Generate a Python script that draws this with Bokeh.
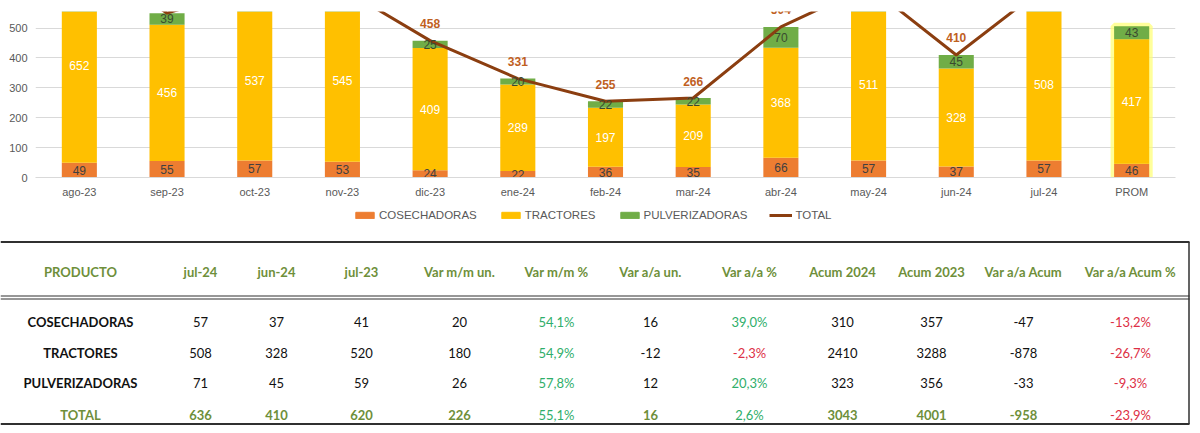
from bokeh.plotting import figure
from bokeh.models import ColumnDataSource, FactorRange, Range1d, CDSView, BooleanFilter
from bokeh.layouts import column
from bokeh.core.properties import value
from bokeh.embed import file_html
from bokeh.resources import INLINE

# ---------------- data ----------------
months = ["ago-23", "sep-23", "oct-23", "nov-23", "dic-23", "ene-24", "feb-24",
          "mar-24", "abr-24", "may-24", "jun-24", "jul-24", "PROM"]
cosechadoras = [49, 55, 57, 53, 24, 22, 36, 35, 66, 57, 37, 57, 46]
tractores = [652, 456, 537, 545, 409, 289, 197, 209, 368, 511, 328, 508, 417]
pulverizadoras = [50, 39, 45, 34, 25, 20, 22, 22, 70, 73, 45, 71, 43]
total_months = months[:12]
total = [751, 550, 639, 632, 458, 331, 255, 266, 504, 641, 410, 636]
series_names = ["COSECHADORAS", "TRACTORES", "PULVERIZADORAS", "TOTAL"]

tbl_header = ["PRODUCTO", "jul-24", "jun-24", "jul-23", "Var m/m un.", "Var m/m %",
              "Var a/a un.", "Var a/a %", "Acum 2024", "Acum 2023", "Var a/a Acum",
              "Var a/a Acum %"]
tbl_products = ["COSECHADORAS", "TRACTORES", "PULVERIZADORAS", "TOTAL"]
tbl_jul24 = [57, 508, 71, 636]
tbl_jun24 = [37, 328, 45, 410]
tbl_jul23 = [41, 520, 59, 620]
tbl_var_mm_un = [20, 180, 26, 226]
tbl_var_mm_pct = ["54,1%", "54,9%", "57,8%", "55,1%"]
tbl_var_aa_un = [16, -12, 12, 16]
tbl_var_aa_pct = ["39,0%", "-2,3%", "20,3%", "2,6%"]
tbl_acum24 = [310, 2410, 323, 3043]
tbl_acum23 = [357, 3288, 356, 4001]
tbl_var_aa_acum = [-47, -878, -33, -958]
tbl_var_aa_acum_pct = ["-13,2%", "-26,7%", "-9,3%", "-23,9%"]

# ---------------- styles ----------------
C_COS = "#ED7D31"
C_TRA = "#FFC000"
C_PUL = "#70AD47"
C_TOT = "#8B3E10"
C_TOTLBL = "#C0601E"
FONT = "Liberation Sans"
TFONT = "Lato"
GREEN_HDR = "#6E8F3A"
GREEN_POS = "#2FAE6A"
RED_NEG = "#DD2F45"
Y_MAX = 555.5

# ---------------- chart ----------------
src = ColumnDataSource(dict(
    x=months, cos=cosechadoras, tra=tractores, pul=pulverizadoras,
    cos_mid=[c / 2 for c in cosechadoras],
    tra_mid=[c + t / 2 for c, t in zip(cosechadoras, tractores)],
    pul_mid=[c + t + p / 2 for c, t, p in zip(cosechadoras, tractores, pulverizadoras)],
    cos_lbl=[str(v) for v in cosechadoras],
    tra_lbl=[str(v) for v in tractores],
    pul_lbl=[str(v) for v in pulverizadoras],
))
tsrc = ColumnDataSource(dict(x=total_months, y=total, lbl=[str(v) for v in total]))
# labels that fall above the visible range are hidden (as in the reference)
lbl_view = CDSView(filter=BooleanFilter([v < 510 for v in total]))
pul_view = CDSView(filter=BooleanFilter([c + t + pv / 2 < Y_MAX - 10 for c, t, pv in
                                          zip(cosechadoras, tractores, pulverizadoras)]))

p = figure(width=1200, height=202, x_range=FactorRange(*months, range_padding=0),
           y_range=Range1d(0, Y_MAX), output_backend="svg", toolbar_location=None,
           min_border_left=35, min_border_right=25, min_border_top=11, min_border_bottom=25)
p.frame_align = False
p.outline_line_color = None
p.background_fill_color = "white"
p.border_fill_color = "white"
p.xgrid.grid_line_color = None
p.ygrid.grid_line_color = "#D9D9D9"
p.yaxis.ticker = [0, 100, 200, 300, 400, 500]
p.yaxis.axis_line_color = None
p.yaxis.major_tick_line_color = None
p.yaxis.major_tick_out = 0
p.yaxis.minor_tick_line_color = None
p.yaxis.major_label_text_font = FONT
p.yaxis.major_label_text_font_size = "11px"
p.yaxis.major_label_text_color = "#595959"
p.yaxis.major_label_standoff = 8
p.xaxis.axis_line_color = "#D9D9D9"
p.xaxis.major_tick_line_color = None
p.xaxis.major_tick_out = 0
p.xaxis.major_label_text_font = FONT
p.xaxis.major_label_text_font_size = "11px"
p.xaxis.major_label_text_color = "#595959"
p.xaxis.major_label_standoff = 8

# glow behind PROM bar
gsrc = ColumnDataSource(dict(x=[months[-1]], top=[cosechadoras[-1] + tractores[-1] + pulverizadoras[-1]]))
p.vbar(x="x", top="top", bottom=0, width=0.4, source=gsrc, fill_color="#FFFF70",
       line_color="#FFFF70", line_width=7, line_alpha=0.7, fill_alpha=0.7)

p.vbar_stack(["cos", "tra", "pul"], x="x", width=0.4, source=src,
             color=[C_COS, C_TRA, C_PUL], line_color=None)
p.line(x="x", y="y", source=tsrc, line_color=C_TOT, line_width=3)

p.text(x="x", y="cos_mid", text="cos_lbl", source=src, text_align="center",
       text_baseline="middle", text_font=value(FONT), text_font_size="12px", text_color="#404040")
p.text(x="x", y="tra_mid", text="tra_lbl", source=src, text_align="center",
       text_baseline="middle", text_font=value(FONT), text_font_size="12px", text_color="white")
p.text(x="x", y="pul_mid", text="pul_lbl", source=src, view=pul_view, text_align="center",
       text_baseline="middle", text_font=value(FONT), text_font_size="12px", text_color="#3A4A30")
p.text(x="x", y="y", text="lbl", source=tsrc, view=lbl_view, text_align="center", y_offset=-17,
       text_baseline="middle", text_font=value(FONT), text_font_size="12px",
       text_font_style="bold", text_color=C_TOTLBL)

# ---------------- legend strip ----------------
lg = figure(width=1200, height=30, x_range=Range1d(0, 1), y_range=Range1d(0, 1),
            output_backend="svg", toolbar_location=None, x_axis_location=None,
            y_axis_location=None, min_border=0)
lg.frame_align = False
lg.outline_line_color = None
lg.xgrid.grid_line_color = None
lg.ygrid.grid_line_color = None
# proxy glyphs placed outside the strip's visible range, only used for legend swatches
lg.vbar(x=[5], top=[5], width=0.1, color=C_COS, legend_label=series_names[0])
lg.vbar(x=[5], top=[5], width=0.1, color=C_TRA, legend_label=series_names[1])
lg.vbar(x=[5], top=[5], width=0.1, color=C_PUL, legend_label=series_names[2])
lg.line(x=[5, 6], y=[5, 5], line_color=C_TOT, line_width=3, legend_label=series_names[3])
leg = lg.legend[0]
leg.orientation = "horizontal"
leg.location = (353, 10)
leg.border_line_color = None
leg.background_fill_alpha = 0
leg.label_text_font = FONT
leg.label_text_font_size = "11.5px"
leg.label_text_color = "#595959"
leg.glyph_width = 23
leg.glyph_height = 8
leg.label_standoff = 3
leg.spacing = 22
leg.padding = 2
leg.margin = 0
leg.label_height = 14

# ---------------- table ----------------
col_x = [80, 200, 276, 361, 459, 556, 650, 749, 842, 931, 1023, 1130]
row_y = [321.5, 352.5, 382.5, 414.5]
hdr_y = 271.5

t = figure(width=1200, height=201, x_range=Range1d(0, 1200), y_range=Range1d(433, 232),
           output_backend="svg", toolbar_location=None, x_axis_location=None,
           y_axis_location=None, min_border=0)
t.frame_align = False
t.outline_line_color = None
t.xgrid.grid_line_color = None
t.ygrid.grid_line_color = None

# borders
t.segment(x0=[0], y0=[241.5], x1=[1189], y1=[241.5], line_color="#303030", line_width=2)
t.segment(x0=[0, 0], y0=[295.5, 298.5], x1=[1189, 1189], y1=[295.5, 298.5], line_color="#303030", line_width=1.2)
t.segment(x0=[0], y0=[423.5], x1=[1189], y1=[423.5], line_color="#303030", line_width=2)
t.segment(x0=[1188.5], y0=[241.5], x1=[1188.5], y1=[423.5], line_color="#303030", line_width=1.5)

# header
t.text(x=col_x, y=[hdr_y] * len(tbl_header), text=tbl_header, text_align="center",
       text_baseline="middle", text_font=value(TFONT), text_font_size="13px",
       text_font_style="bold", text_color=GREEN_HDR)

columns = [tbl_jul24, tbl_jun24, tbl_jul23, tbl_var_mm_un, tbl_var_mm_pct, tbl_var_aa_un,
           tbl_var_aa_pct, tbl_acum24, tbl_acum23, tbl_var_aa_acum, tbl_var_aa_acum_pct]
pct_cols = {4, 6, 10}

xs, ys, txt, colr, style = [], [], [], [], []
for i, prod in enumerate(tbl_products):
    is_tot = prod == "TOTAL"
    xs.append(col_x[0]); ys.append(row_y[i]); txt.append(prod)
    colr.append(GREEN_HDR if is_tot else "#111111"); style.append("bold")
    for j, col in enumerate(columns):
        s = str(col[i])
        xs.append(col_x[j + 1]); ys.append(row_y[i]); txt.append(s)
        if j in pct_cols:
            colr.append(RED_NEG if s.startswith("-") else GREEN_POS)
            style.append("normal")
        else:
            colr.append(GREEN_HDR if is_tot else "#111111")
            style.append("bold" if is_tot else "normal")

tsrc2 = ColumnDataSource(dict(x=xs, y=ys, text=txt, color=colr, style=style))
t.text(x="x", y="y", text="text", source=tsrc2, text_align="center", text_baseline="middle",
       text_font=value(TFONT), text_font_size="13px", text_color="color",
       text_font_style="style")

layout = column(p, lg, t, spacing=0)
open("out.html", "w").write(file_html(layout, INLINE))
